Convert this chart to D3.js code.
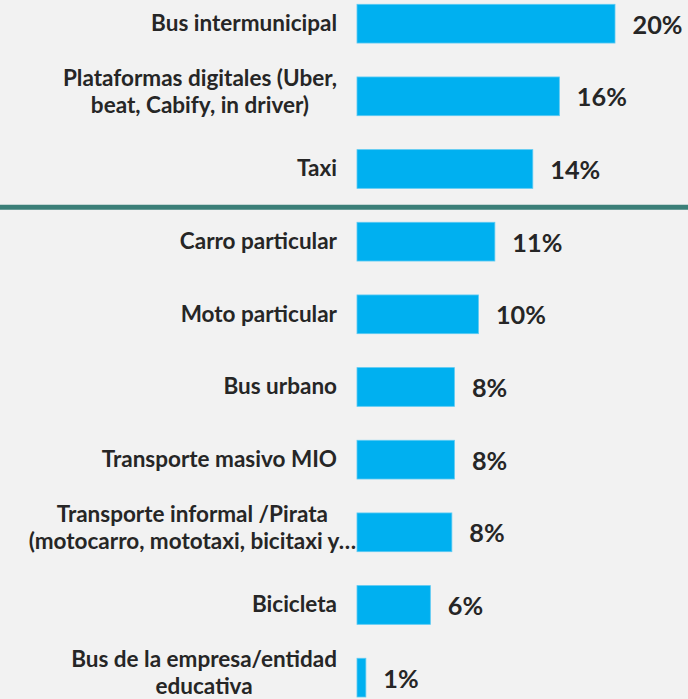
<!DOCTYPE html>
<html><head><meta charset="utf-8">
<script src="https://cdn.jsdelivr.net/npm/d3@7"></script>
<style>
html,body{margin:0;padding:0;background:#f2f2f2;}
svg{display:block;}
</style></head>
<body>
<svg id="chart" width="688" height="699"></svg>
<script>
const categories = [
  "Bus intermunicipal",
  "Plataformas digitales (Uber,\nbeat, Cabify, in driver)",
  "Taxi",
  "Carro particular",
  "Moto particular",
  "Bus urbano",
  "Transporte masivo MIO",
  "Transporte informal /Pirata\n(motocarro, mototaxi, bicitaxi y…",
  "Bicicleta",
  "Bus de la empresa/entidad\neducativa"
];
const values = [20.4, 16.0, 13.9, 10.9, 9.6, 7.7, 7.7, 7.5, 5.8, 0.7];
const valueLabels = ["20%", "16%", "14%", "11%", "10%", "8%", "8%", "8%", "6%", "1%"];
const separatorAfter = "Taxi";

const FONT = "Lato, 'DejaVu Sans', sans-serif";
const svg = d3.select("#chart");
svg.append("rect").attr("width", 688).attr("height", 699).attr("fill", "#f2f2f2");

function measure(txt, size) {
  const t = svg.append("text").attr("font-family", FONT).attr("font-weight", "bold")
    .attr("font-size", size).text(txt);
  const w = t.node().getComputedTextLength();
  t.remove();
  return w;
}
const catSize = 20 * 186 / measure("Bus intermunicipal", 20);
const valSize = 20 * 50 / measure("20%", 20);
const lineGap = Math.max(20, catSize * 1.22);

const x = d3.scaleLinear().domain([0, d3.max(values)]).range([357, 615]);
const y = d3.scaleBand().domain(categories).range([4.3, 697]).paddingInner(0.467).paddingOuter(0);

// separator
const nextCat = categories[categories.indexOf(separatorAfter) + 1];
const sepY = (y(separatorAfter) + y.bandwidth() + y(nextCat)) / 2 + 2;
svg.append("line").attr("x1", 0).attr("x2", 688).attr("y1", sepY).attr("y2", sepY)
  .attr("stroke", "#3b7f78").attr("stroke-width", 5);

// bars
svg.append("g").selectAll("rect").data(categories).join("rect")
  .attr("x", x(0))
  .attr("y", d => y(d))
  .attr("width", (d, i) => x(values[i]) - x(0))
  .attr("height", y.bandwidth())
  .attr("fill", "#00b0f0")
  .attr("stroke", "#5ccaf3").attr("stroke-width", 0.8);

// category labels
const lab = svg.append("g").attr("font-family", FONT).attr("font-weight", "bold")
  .attr("font-size", catSize).attr("fill", "#262626");
const RIGHT = 337;
categories.forEach(c => {
  const lines = c.split("\n");
  const cy = y(c) + y.bandwidth() / 2;
  if (lines.length === 1) {
    lab.append("text").attr("x", RIGHT).attr("y", cy + 7.2)
      .attr("text-anchor", "end").text(lines[0]);
  } else {
    const trunc = lines.find(l => l.endsWith("…"));
    let cx;
    if (trunc) cx = x(0) - 1 - measure(trunc, catSize) / 2;
    else cx = RIGHT - d3.max(lines, l => measure(l, catSize)) / 2;
    lines.forEach((l, k) => {
      lab.append("text").attr("text-anchor", "middle")
        .attr("x", cx)
        .attr("y", cy + 3 + (k - 0.5) * lineGap)
        .text(l);
    });
  }
});

// value labels
svg.append("g").attr("font-family", FONT).attr("font-weight", "bold")
  .attr("font-size", valSize).attr("fill", "#262626")
  .selectAll("text").data(categories).join("text")
  .attr("x", (d, i) => x(values[i]) + 17.5)
  .attr("y", d => y(d) + y.bandwidth() / 2 + 10)
  .text((d, i) => valueLabels[i]);
</script>
</body></html>
